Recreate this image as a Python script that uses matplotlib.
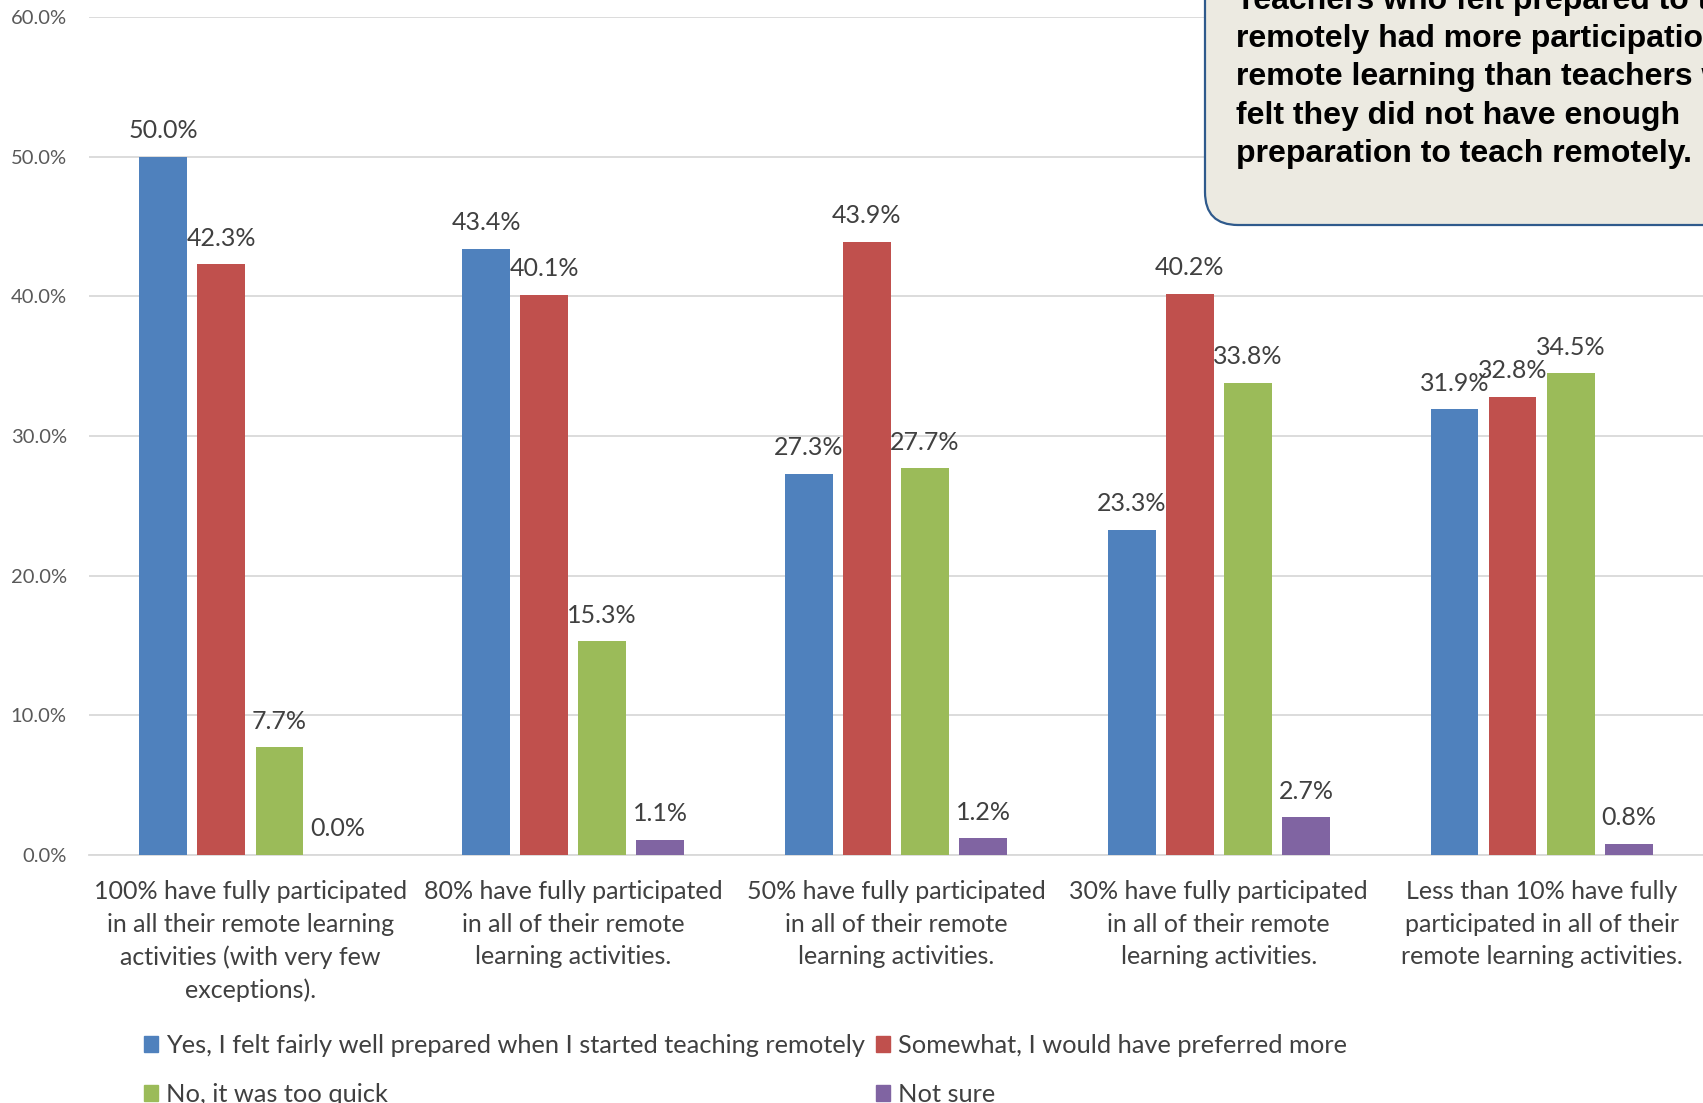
import matplotlib
matplotlib.use("Agg")
import matplotlib.pyplot as plt
from matplotlib.patches import FancyBboxPatch, Patch
import numpy as np

categories = [
    "100% have fully participated\nin all their remote learning\nactivities (with very few\nexceptions).",
    "80% have fully participated\nin all of their remote\nlearning activities.",
    "50% have fully participated\nin all of their remote\nlearning activities.",
    "30% have fully participated\nin all of their remote\nlearning activities.",
    "Less than 10% have fully\nparticipated in all of their\nremote learning activities.",
]
series_names = [
    "Yes, I felt fairly well prepared when I started teaching remotely",
    "Somewhat, I would have preferred more",
    "No, it was too quick",
    "Not sure",
]
yes_vals = [50.0, 43.4, 27.3, 23.3, 31.9]
somewhat_vals = [42.3, 40.1, 43.9, 40.2, 32.8]
no_vals = [7.7, 15.3, 27.7, 33.8, 34.5]
notsure_vals = [0.0, 1.1, 1.2, 2.7, 0.8]
y_ticks = [0, 10, 20, 30, 40, 50, 60]
callout_lines = [
    "Teachers who felt prepared to teach",
    "remotely had more participation in",
    "remote learning than teachers who",
    "felt they did not have enough",
    "preparation to teach remotely.",
]

colors = ["#4F81BD", "#C0504D", "#9BBB59", "#8064A2"]
FONT = "Lato"
TXT = "#404040"

fig = plt.figure(figsize=(17.03, 11.03), dpi=100)
ax = fig.add_axes([89 / 1703, 1 - 855 / 1103, 1 - 89 / 1703, (855 - 17) / 1103])

x = np.arange(len(categories))
all_series = [yes_vals, somewhat_vals, no_vals, notsure_vals]
width = 0.148
step = 0.18
for i, (vals, col) in enumerate(zip(all_series, colors)):
    pos = x + (i - 1.5) * step
    bars = ax.bar(pos, vals, width=width, color=col, zorder=3, label=series_names[i])
    for b, v in zip(bars, vals):
        ax.annotate(f"{v:.1f}%", (b.get_x() + b.get_width() / 2, v),
                    xytext=(0, 10.5), textcoords="offset points",
                    ha="center", va="bottom", fontsize=18, family=FONT, color=TXT, zorder=4)

ax.set_xlim(-0.5, 4.5)
ax.set_ylim(0, 60)
ax.set_yticks(y_ticks)
ax.set_yticklabels([f"{t:.1f}%" for t in y_ticks], fontsize=14.5, family=FONT, color="#595959")
ax.set_xticks(x)
ax.set_xticklabels(categories, fontsize=18, family=FONT, color=TXT, linespacing=1.5)
ax.tick_params(axis="both", length=0)
ax.tick_params(axis="y", pad=16)
ax.tick_params(axis="x", pad=18)
ax.grid(axis="y", color="#D9D9D9", linewidth=1.3, zorder=0)
for s in ["top", "right", "left"]:
    ax.spines[s].set_visible(False)
ax.spines["bottom"].set_color("#D9D9D9")
ax.spines["bottom"].set_linewidth(1.3)

handles = [Patch(color=c) for c in colors]
order = [0, 2, 1, 3]
fig.legend([handles[i] for i in order], [series_names[i] for i in order],
           loc="upper left", bbox_to_anchor=(144 / 1703, 1 - 1034 / 1103), ncol=2,
           frameon=False, prop={"family": FONT, "size": 18.3}, handlelength=0.55, handleheight=0.55,
           handletextpad=0.3, columnspacing=0.45, labelspacing=1.02, borderpad=0, borderaxespad=0)
for t in fig.legends[0].get_texts():
    t.set_color(TXT)

# callout box (in inches, isotropic)
box = FancyBboxPatch((12.05, 11.03 - 2.25), 6.0, 4.0,
                     boxstyle="round,pad=0,rounding_size=0.33",
                     transform=fig.dpi_scale_trans, facecolor="#ECEAE1",
                     edgecolor="#2F5A8C", linewidth=1.6, zorder=10)
fig.patches.append(box)
baselines_px = [9, 47, 85, 124, 162]
for line, bp in zip(callout_lines, baselines_px):
    fig.text(12.36, (1103 - bp) / 100, line, transform=fig.dpi_scale_trans,
             fontsize=23, family="Liberation Sans", weight="bold", color="black",
             ha="left", va="baseline", zorder=11)

fig.savefig("out.png", dpi=100)
